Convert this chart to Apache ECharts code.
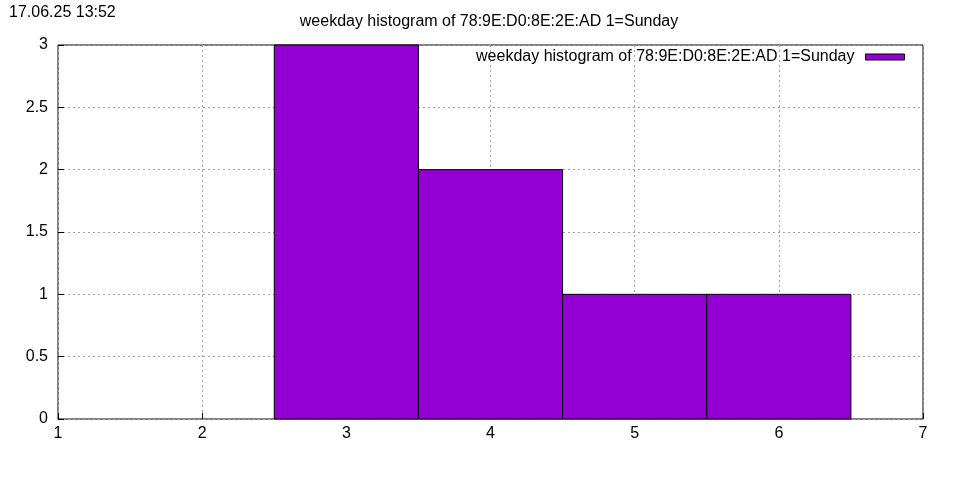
<!DOCTYPE html>
<html><head><meta charset="utf-8">
<script src="https://cdn.jsdelivr.net/npm/echarts@6/dist/echarts.min.js"></script>
<style>html,body{margin:0;padding:0;background:#fff}#c{width:960px;height:480px}</style>
</head><body><div id="c"></div>
<script>
const weekdays = [3, 4, 5, 6];
const counts = [3, 2, 1, 1];
const seriesName = 'weekday histogram of 78:9E:D0:8E:2E:AD 1=Sunday';
const titleText = 'weekday histogram of 78:9E:D0:8E:2E:AD 1=Sunday';
const timestamp = '17.06.25 13:52';

const FONT = '"Liberation Sans", Arial, sans-serif';
const FS = 16;
const chart = echarts.init(document.getElementById('c'), null, {renderer: 'canvas'});
const data = weekdays.map((d, i) => [d, counts[i]]);
chart.setOption({
  animation: false,
  textStyle: {fontFamily: FONT},
  title: [
    {text: titleText, left: 489, top: 14, textAlign: 'center', padding: 0,
     textStyle: {fontFamily: FONT, fontSize: FS, fontWeight: 'normal', color: '#000'}},
    {text: timestamp, left: 9, top: 5, padding: 0,
     textStyle: {fontFamily: FONT, fontSize: FS, fontWeight: 'normal', color: '#000'}}
  ],
  legend: {
    right: 55, top: 49, align: 'right', itemWidth: 39, itemHeight: 6, padding: 0,
    textStyle: {fontFamily: FONT, fontSize: FS, color: '#000', padding: [0, 6, 0, 0]},
    data: [{name: seriesName, icon: 'rect', itemStyle: {color: '#9400d3', borderColor: '#000', borderWidth: 1}}]
  },
  grid: {left: 58, right: 37, top: 45, bottom: 61, show: true, borderColor: '#000', borderWidth: 1, backgroundColor: 'transparent'},
  xAxis: {
    type: 'value', min: 1, max: 7, interval: 1,
    axisLine: {show: false},
    axisTick: {show: true, inside: true, length: 6, lineStyle: {color: '#000'}},
    axisLabel: {color: '#000', fontSize: FS, margin: 7, fontFamily: FONT},
    splitLine: {show: true, lineStyle: {color: '#a0a0a0', type: [2, 3], width: 1}}
  },
  yAxis: {
    type: 'value', min: 0, max: 3, interval: 0.5,
    axisLine: {show: false},
    axisTick: {show: true, inside: true, length: 6, lineStyle: {color: '#000'}},
    axisLabel: {color: '#000', fontSize: FS, margin: 10, fontFamily: FONT},
    splitLine: {show: true, lineStyle: {color: '#a0a0a0', type: [2, 3], width: 1}}
  },
  series: [{
    name: seriesName,
    type: 'custom',
    data: data,
    itemStyle: {color: '#9400d3', borderColor: '#000', borderWidth: 1},
    renderItem: function (params, api) {
      const x = api.value(0), y = api.value(1);
      const p0 = api.coord([x - 0.5, y]);
      const p1 = api.coord([x + 0.5, 0]);
      return {
        type: 'rect',
        shape: {x: p0[0], y: p0[1], width: p1[0] - p0[0], height: p1[1] - p0[1]},
        style: {fill: '#9400d3', stroke: '#000', lineWidth: 1}
      };
    }
  }]
});
</script></body></html>
